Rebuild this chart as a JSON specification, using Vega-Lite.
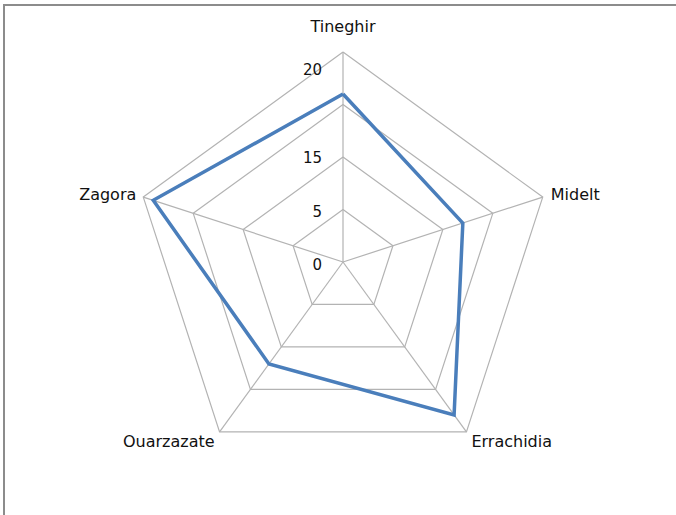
{
  "$schema": "https://vega.github.io/schema/vega-lite/v6.json",
  "width": 680,
  "height": 520,
  "autosize": "none",
  "padding": {"left": 4, "top": 5, "right": 0, "bottom": 0},
  "background": "white",
  "config": {"view": {"stroke": "#8c8c8c", "strokeWidth": 2}},
  "datasets": {
    "series": [
      {"region": "Tineghir", "i": 0, "value": 16},
      {"region": "Midelt", "i": 1, "value": 12},
      {"region": "Errachidia", "i": 2, "value": 18},
      {"region": "Ouarzazate", "i": 3, "value": 12},
      {"region": "Zagora", "i": 4, "value": 19},
      {"region": "Tineghir", "i": 5, "value": 16}
    ],
    "grid": [
      {"i": 0, "rings": [5, 10, 15, 20]},
      {"i": 1, "rings": [5, 10, 15, 20]},
      {"i": 2, "rings": [5, 10, 15, 20]},
      {"i": 3, "rings": [5, 10, 15, 20]},
      {"i": 4, "rings": [5, 10, 15, 20]},
      {"i": 5, "rings": [5, 10, 15, 20]}
    ],
    "ticks": [
      {"label": "20", "pos": 18.3},
      {"label": "15", "pos": 9.9},
      {"label": "5", "pos": 4.8},
      {"label": "0", "pos": -0.25}
    ]
  },
  "layer": [
    {
      "data": {"name": "grid"},
      "transform": [
        {"flatten": ["rings"], "as": ["ring"]},
        {"calculate": "datum.i*2*PI/5", "as": "a"},
        {"calculate": "datum.ring*sin(datum.a)", "as": "x"},
        {"calculate": "datum.ring*cos(datum.a)", "as": "y"}
      ],
      "mark": {"type": "line", "color": "#b3b3b3", "strokeWidth": 1.2},
      "encoding": {
        "x": {"field": "x", "type": "quantitative", "scale": {"domain": [-32.286, 32.476], "nice": false, "zero": false}, "axis": null},
        "y": {"field": "y", "type": "quantitative", "scale": {"domain": [-25.048, 24.476], "nice": false, "zero": false}, "axis": null},
        "detail": {"field": "ring"},
        "order": {"field": "i"}
      }
    },
    {
      "data": {"name": "series"},
      "transform": [
        {"filter": "datum.i < 5"},
        {"calculate": "datum.i*2*PI/5", "as": "a"},
        {"calculate": "20*sin(datum.a)", "as": "x"},
        {"calculate": "20*cos(datum.a)", "as": "y"}
      ],
      "mark": {"type": "rule", "color": "#b3b3b3", "strokeWidth": 1.2},
      "encoding": {
        "x": {"field": "x", "type": "quantitative"},
        "y": {"field": "y", "type": "quantitative"},
        "x2": {"datum": 0},
        "y2": {"datum": 0}
      }
    },
    {
      "data": {"name": "series"},
      "transform": [
        {"calculate": "datum.i*2*PI/5", "as": "a"},
        {"calculate": "datum.value*sin(datum.a)", "as": "x"},
        {"calculate": "datum.value*cos(datum.a)", "as": "y"}
      ],
      "mark": {"type": "line", "color": "#4a7ebb", "strokeWidth": 3.5, "strokeJoin": "miter"},
      "encoding": {
        "x": {"field": "x", "type": "quantitative"},
        "y": {"field": "y", "type": "quantitative"},
        "order": {"field": "i"}
      }
    },
    {
      "data": {"name": "ticks"},
      "mark": {"type": "text", "align": "right", "baseline": "middle", "dx": -21, "font": "DejaVu Sans", "fontSize": 15, "color": "#111"},
      "encoding": {
        "x": {"datum": 0},
        "y": {"field": "pos", "type": "quantitative"},
        "text": {"field": "label"}
      }
    },
    {
      "data": {"name": "series"},
      "transform": [{"filter": "datum.region == 'Tineghir' && datum.i == 0"}],
      "mark": {"type": "text", "align": "center", "baseline": "middle", "dy": -25, "font": "DejaVu Sans", "fontSize": 16, "color": "#111"},
      "encoding": {"x": {"datum": 0}, "y": {"datum": 20}, "text": {"field": "region"}}
    },
    {
      "data": {"name": "series"},
      "transform": [
        {"filter": "datum.region == 'Midelt'"},
        {"calculate": "20*sin(datum.i*2*PI/5)", "as": "x"},
        {"calculate": "20*cos(datum.i*2*PI/5)", "as": "y"}
      ],
      "mark": {"type": "text", "align": "left", "baseline": "middle", "dx": 8, "dy": -2, "font": "DejaVu Sans", "fontSize": 16, "color": "#111"},
      "encoding": {"x": {"field": "x", "type": "quantitative"}, "y": {"field": "y", "type": "quantitative"}, "text": {"field": "region"}}
    },
    {
      "data": {"name": "series"},
      "transform": [
        {"filter": "datum.region == 'Errachidia'"},
        {"calculate": "20*sin(datum.i*2*PI/5)", "as": "x"},
        {"calculate": "20*cos(datum.i*2*PI/5)", "as": "y"}
      ],
      "mark": {"type": "text", "align": "left", "baseline": "middle", "dx": 5, "dy": 10, "font": "DejaVu Sans", "fontSize": 16, "color": "#111"},
      "encoding": {"x": {"field": "x", "type": "quantitative"}, "y": {"field": "y", "type": "quantitative"}, "text": {"field": "region"}}
    },
    {
      "data": {"name": "series"},
      "transform": [
        {"filter": "datum.region == 'Ouarzazate'"},
        {"calculate": "20*sin(datum.i*2*PI/5)", "as": "x"},
        {"calculate": "20*cos(datum.i*2*PI/5)", "as": "y"}
      ],
      "mark": {"type": "text", "align": "right", "baseline": "middle", "dx": -5, "dy": 10, "font": "DejaVu Sans", "fontSize": 16, "color": "#111"},
      "encoding": {"x": {"field": "x", "type": "quantitative"}, "y": {"field": "y", "type": "quantitative"}, "text": {"field": "region"}}
    },
    {
      "data": {"name": "series"},
      "transform": [
        {"filter": "datum.region == 'Zagora'"},
        {"calculate": "20*sin(datum.i*2*PI/5)", "as": "x"},
        {"calculate": "20*cos(datum.i*2*PI/5)", "as": "y"}
      ],
      "mark": {"type": "text", "align": "right", "baseline": "middle", "dx": -7, "dy": -2, "font": "DejaVu Sans", "fontSize": 16, "color": "#111"},
      "encoding": {"x": {"field": "x", "type": "quantitative"}, "y": {"field": "y", "type": "quantitative"}, "text": {"field": "region"}}
    }
  ]
}
